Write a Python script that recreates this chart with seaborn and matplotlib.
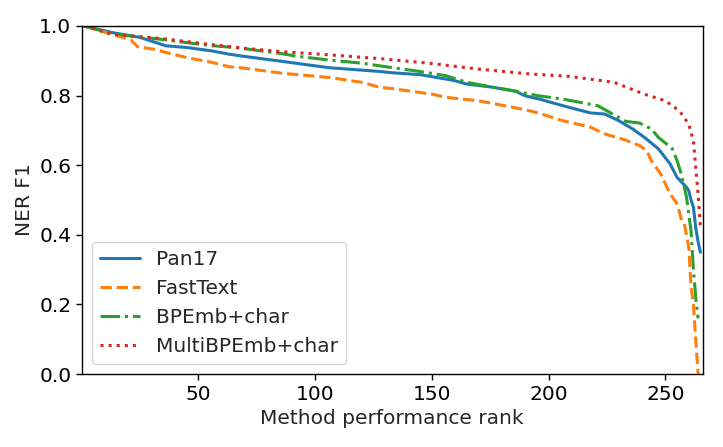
import pandas as pd
import seaborn as sns
import matplotlib.pyplot as plt

# Values (rank, F1)
methods = ['Pan17', 'FastText', 'BPEmb+char', 'MultiBPEmb+char']

pan17_rank = [1, 13, 25, 36, 45, 56, 63, 68, 86, 106, 128, 132, 145, 159, 165, 176,
              186, 190, 196, 206, 218, 224, 230, 236, 241, 247, 252, 255, 259, 260,
              261, 262, 263, 264, 265]
pan17_f1 = [1.0, 0.981, 0.967, 0.943, 0.938, 0.928, 0.919, 0.914, 0.898, 0.880, 0.869,
            0.866, 0.860, 0.844, 0.833, 0.824, 0.812, 0.799, 0.790, 0.771, 0.750, 0.747,
            0.728, 0.704, 0.680, 0.647, 0.604, 0.565, 0.537, 0.527, 0.50, 0.48, 0.42,
            0.38, 0.35]

fasttext_rank = [1, 8, 13, 21, 24, 31, 36, 45, 56, 63, 68, 86, 106, 120, 128, 132, 150,
                 156, 170, 185, 192, 196, 206, 218, 224, 233, 239, 242, 244, 248, 250,
                 252, 255, 257, 258, 260, 261, 262, 263, 264]
fasttext_f1 = [1.0, 0.986, 0.976, 0.960, 0.940, 0.933, 0.924, 0.909, 0.895, 0.883, 0.880,
               0.864, 0.852, 0.838, 0.823, 0.821, 0.804, 0.795, 0.785, 0.766, 0.756, 0.749,
               0.728, 0.709, 0.690, 0.672, 0.656, 0.642, 0.613, 0.575, 0.546, 0.518, 0.489,
               0.441, 0.436, 0.365, 0.25, 0.20, 0.10, 0.0]

bpemb_rank = [1, 13, 25, 36, 45, 56, 66, 85, 92, 106, 120, 128, 145, 156, 165, 176, 185,
              192, 196, 206, 221, 225, 233, 239, 244, 247, 253, 255, 257, 259, 260, 261,
              262, 263, 264]
bpemb_f1 = [1.0, 0.978, 0.968, 0.960, 0.952, 0.943, 0.938, 0.921, 0.913, 0.902, 0.893,
            0.885, 0.869, 0.857, 0.838, 0.824, 0.814, 0.804, 0.799, 0.790, 0.771, 0.756,
            0.726, 0.721, 0.704, 0.680, 0.647, 0.613, 0.570, 0.51, 0.46, 0.41, 0.30,
            0.22, 0.16]

multi_rank = [1, 13, 25, 34, 45, 56, 66, 86, 106, 128, 150, 170, 192, 209, 228, 241, 250,
              256, 260, 262, 263, 264, 265]
multi_f1 = [1.0, 0.976, 0.969, 0.964, 0.955, 0.946, 0.938, 0.926, 0.917, 0.906, 0.892,
            0.876, 0.862, 0.855, 0.838, 0.804, 0.785, 0.756, 0.718, 0.670, 0.594, 0.518,
            0.42]

frames = []
for name, r, f in zip(methods,
                      [pan17_rank, fasttext_rank, bpemb_rank, multi_rank],
                      [pan17_f1, fasttext_f1, bpemb_f1, multi_f1]):
    frames.append(pd.DataFrame({'rank': r, 'f1': f, 'method': name}))
df = pd.concat(frames, ignore_index=True)

sns.set_theme(style='ticks', rc={'axes.linewidth': 1.0,
                                 'xtick.major.size': 4, 'ytick.major.size': 4,
                                 'xtick.major.width': 1.0, 'ytick.major.width': 1.0})
plt.rcParams['font.family'] = ['DejaVu Sans']

fig, ax = plt.subplots(figsize=(7.23, 4.47), dpi=100)
fig.subplots_adjust(left=0.113, right=0.972, top=0.942, bottom=0.163)

sns.lineplot(data=df, x='rank', y='f1', hue='method', style='method',
             hue_order=methods, style_order=methods, palette='tab10',
             dashes=['', (3.7, 1.6), (6.4, 1.6, 1, 1.6), (1, 1.65)],
             linewidth=2.2, sort=False, ax=ax)

ax.set_xlim(0, 266)
ax.set_ylim(0, 1.0)
ax.set_xticks([50, 100, 150, 200, 250])
ax.set_yticks([0.0, 0.2, 0.4, 0.6, 0.8, 1.0])
ax.tick_params(labelsize=14.5, colors='black')
for s in ax.spines.values():
    s.set_color('black')
ax.set_xlabel('Method performance rank', fontsize=14.5)
ax.set_ylabel('NER F1', fontsize=14.5)

sns.move_legend(ax, 'lower left', title=None, fontsize=14.5, frameon=True)

fig.savefig('out.png', dpi=100)
plt.close()
